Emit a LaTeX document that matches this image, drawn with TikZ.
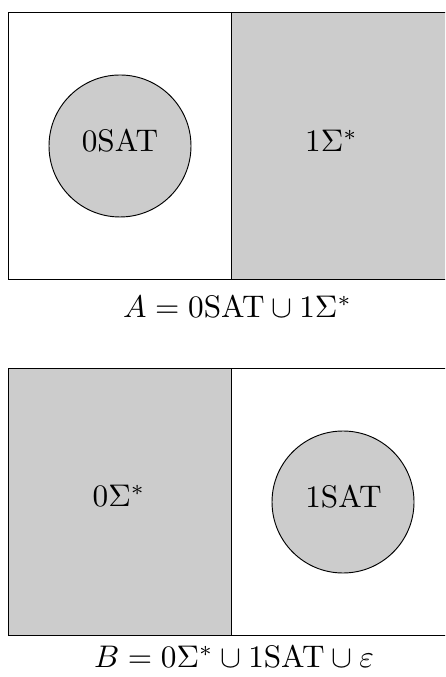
\documentclass[tikz,border=0pt]{standalone}
\usepackage{amssymb}
\tikzset{
  region/.style={fill=black!20, draw=black, line width=0.3pt},
  frame/.style={draw=black, line width=0.45pt},
  divider/.style={draw=black, line width=0.35pt},
  lbl/.style={anchor=base, inner sep=0pt},
  captionlbl/.style={anchor=base, inner sep=0pt}
}
\begin{document}
\begin{tikzpicture}[x=0.01125cm, y=-0.01125cm]
\useasboundingbox (0,0) rectangle (445,677);
\clip (0,0) rectangle (445,677);
% top panel
\fill[black!20] (231.5,12.7) rectangle (454.5,279.3);
\draw[frame] (8.5,12.7) rectangle (454.5,279.3);
\draw[divider] (231.5,12.7) -- (231.5,279.3);
\draw[region] (120,146) circle (71);
\node[lbl] (l0sat) at (120,151.7) {$0\mathrm{SAT}$};
\node[lbl] (l1sig) at (331.5,151.7) {$1\Sigma^*$};
\node[captionlbl] (capA) at (237.5,317.5) {$A = 0\mathrm{SAT} \cup 1\Sigma^*$};
% bottom panel
\fill[black!20] (8.5,368.3) rectangle (231.5,635.7);
\draw[frame] (8.5,368.3) rectangle (454.5,635.7);
\draw[divider] (231.5,368.3) -- (231.5,635.7);
\draw[region] (343,502) circle (71);
\node[lbl] (l0sig) at (119,506.7) {$0\Sigma^*$};
\node[lbl] (l1sat) at (343.5,507) {$1\mathrm{SAT}$};
\node[captionlbl] (capB) at (234,667.5) {$B = 0\Sigma^* \cup 1\mathrm{SAT} \cup \varepsilon$};
\end{tikzpicture}
\end{document}
